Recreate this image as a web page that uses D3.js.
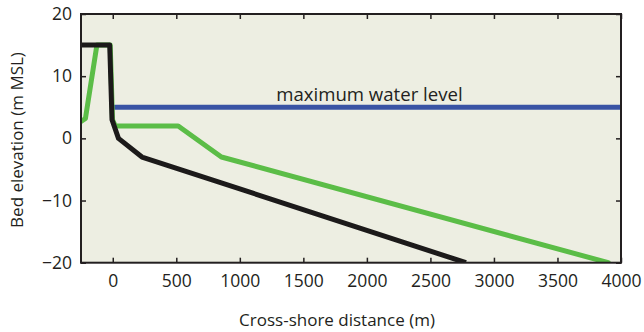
<!DOCTYPE html>
<html>
<head>
<meta charset="utf-8">
<script src="https://cdn.jsdelivr.net/npm/d3@7"></script>
<style>
  html, body { margin: 0; padding: 0; background: #ffffff; }
  svg { display: block; }
  text { font-family: "Open Sans", sans-serif; fill: #231f20; }
</style>
</head>
<body>
<svg id="chart" width="644" height="332"></svg>
<script>
// Cross-shore profiles: [distance (m), bed elevation (m MSL)]
const initialProfile = [
  [-250, 15], [-24, 15], [-6, 3], [45, 0], [230, -3], [2780, -20]
];
const modifiedProfile = [
  [-250, 2.7], [-215, 3.2], [-125, 15], [-20, 15], [-2, 3], [20, 2],
  [515, 2], [855, -3], [3900, -20]
];
const waterLevel = [[0, 5], [4000, 5]];
const waterLabel = "maximum water level";

const xTicks = [0, 500, 1000, 1500, 2000, 2500, 3000, 3500, 4000];
const yTicks = [-20, -10, 0, 10, 20];
const xDomain = [-250, 4000];
const yDomain = [-20, 20];

const svg = d3.select("#chart");
const plot = { left: 81, right: 621, top: 14, bottom: 262.7 };

const x = d3.scaleLinear().domain(xDomain).range([plot.left, plot.right]);
const y = d3.scaleLinear().domain(yDomain).range([plot.bottom, plot.top]);

// plot background
svg.append("rect")
  .attr("x", plot.left).attr("y", plot.top)
  .attr("width", plot.right - plot.left)
  .attr("height", plot.bottom - plot.top)
  .attr("fill", "#edeee2");

svg.append("clipPath").attr("id", "plotclip")
  .append("rect")
  .attr("x", plot.left).attr("y", plot.top)
  .attr("width", plot.right - plot.left)
  .attr("height", plot.bottom - plot.top);

const line = d3.line().x(d => x(d[0])).y(d => y(d[1]));
const lines = svg.append("g").attr("clip-path", "url(#plotclip)");

lines.append("path").datum(waterLevel)
  .attr("d", line).attr("fill", "none")
  .attr("stroke", "#3953a4").attr("stroke-width", 5);

lines.append("path").datum(modifiedProfile)
  .attr("d", line).attr("fill", "none")
  .attr("stroke", "#5bbd47").attr("stroke-width", 5)
  .attr("stroke-linejoin", "round").attr("stroke-linecap", "round");

lines.append("path").datum(initialProfile)
  .attr("d", line).attr("fill", "none")
  .attr("stroke", "#1c1a1a").attr("stroke-width", 5)
  .attr("stroke-linejoin", "round");

svg.append("text")
  .attr("x", x(2020)).attr("y", y(5) - 6)
  .attr("text-anchor", "middle")
  .attr("font-size", 18.6)
  .text(waterLabel);

// axes with inward ticks on every side
const tickLen = 5;
const axisStyle = g => {
  g.select(".domain").remove();
  g.selectAll(".tick line").attr("stroke", "#231f20").attr("stroke-width", 1.5);
  g.selectAll("text").attr("font-family", "Open Sans, sans-serif")
    .attr("font-size", 17.5).attr("fill", "#231f20");
};

svg.append("g")
  .attr("transform", `translate(0,${plot.bottom})`)
  .call(d3.axisBottom(x).tickValues(xTicks).tickSize(-tickLen).tickPadding(12).tickFormat(d3.format("d")))
  .call(axisStyle);

svg.append("g")
  .attr("transform", `translate(0,${plot.top})`)
  .call(d3.axisTop(x).tickValues(xTicks).tickSize(-tickLen).tickFormat(""))
  .call(axisStyle);

svg.append("g")
  .attr("transform", `translate(${plot.left},0)`)
  .call(d3.axisLeft(y).tickValues(yTicks).tickSize(-tickLen).tickPadding(9)
    .tickFormat(d => d < 0 ? "\u2212" + Math.abs(d) : String(d)))
  .call(axisStyle);

svg.append("g")
  .attr("transform", `translate(${plot.right},0)`)
  .call(d3.axisRight(y).tickValues(yTicks).tickSize(-tickLen).tickFormat(""))
  .call(axisStyle);

// frame
svg.append("rect")
  .attr("x", plot.left).attr("y", plot.top)
  .attr("width", plot.right - plot.left)
  .attr("height", plot.bottom - plot.top)
  .attr("fill", "none").attr("stroke", "#231f20").attr("stroke-width", 2);

// axis titles
svg.append("text")
  .attr("x", 337).attr("y", 326)
  .attr("text-anchor", "middle").attr("font-size", 17)
  .text("Cross-shore distance (m)");

svg.append("text")
  .attr("transform", "translate(23,140) rotate(-90)")
  .attr("text-anchor", "middle").attr("font-size", 17)
  .text("Bed elevation (m MSL)");
</script>
</body>
</html>
